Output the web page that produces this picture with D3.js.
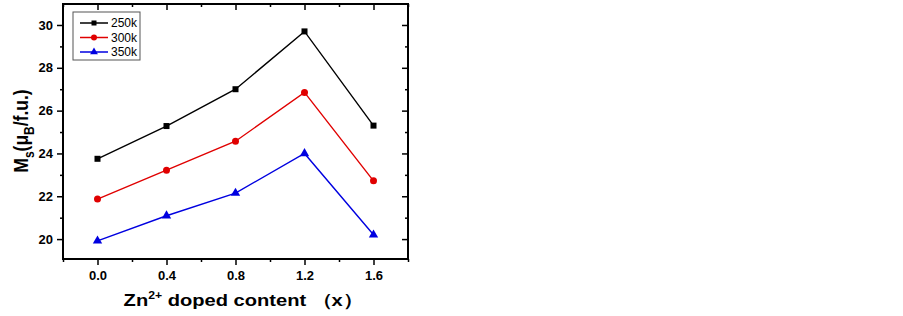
<!DOCTYPE html>
<html>
<head>
<meta charset="utf-8">
<script src="https://cdn.jsdelivr.net/npm/d3@7"></script>
<style>
  body { margin: 0; background: #fff; }
  svg { font-family: Arial, "Liberation Sans", sans-serif; }
</style>
</head>
<body>
<div id="chart"></div>
<script>
// data
var xs = [0.0, 0.4, 0.8, 1.2, 1.6];
var s250 = [23.75, 25.28, 27.0, 29.7, 25.3];
var s300 = [21.87, 23.22, 24.57, 26.85, 22.72];
var s350 = [19.92, 21.09, 22.15, 24.0, 20.2];
var names = ["250k", "300k", "350k"];
var xTicks = [0.0, 0.4, 0.8, 1.2, 1.6];
var yTicks = [20, 22, 24, 26, 28, 30];

var colors = ["#000000", "#e00000", "#0000e0"];
var series = [s250, s300, s350];

var margin = {top: 4, left: 63};
var width = 345, height = 255;

var svg = d3.select("#chart").append("svg")
    .attr("width", 903).attr("height", 316);
var g = svg.append("g").attr("transform", "translate(" + margin.left + "," + margin.top + ")");

var x = d3.scaleLinear().domain([-0.2, 1.8]).range([0, width]);
var y = d3.scaleLinear().domain([19.07, 30.98]).range([height, 0]);

// axes: major + minor ticks
var minorX = d3.range(-0.2, 1.81, 0.2).filter(v => Math.abs(Math.round(v / 0.4) * 0.4 - v) > 1e-6);
var minorY = d3.range(19, 31.01, 1).filter(v => v % 2 !== 0 && v > 19.07 && v < 30.98);

function axisStyle(sel) {
  sel.select(".domain").remove();
  sel.selectAll("line").attr("stroke", "#000").attr("stroke-width", 1.5);
}

// bottom (outward)
g.append("g").attr("transform", "translate(0," + height + ")")
  .call(d3.axisBottom(x).tickValues(xTicks).tickSize(6).tickPadding(6).tickFormat(d3.format(".1f")))
  .call(axisStyle)
  .selectAll("text").attr("font-size", 13).attr("font-weight", "bold").attr("fill", "#000")
  .attr("font-family", "Arial, 'Liberation Sans', sans-serif");
g.append("g").attr("transform", "translate(0," + height + ")")
  .call(d3.axisBottom(x).tickValues(minorX).tickSize(3).tickFormat(""))
  .call(axisStyle);
// top (inward)
g.append("g").call(d3.axisBottom(x).tickValues(xTicks).tickSize(6).tickFormat("")).call(axisStyle);
g.append("g").call(d3.axisBottom(x).tickValues(minorX).tickSize(3).tickFormat("")).call(axisStyle);

// left (outward)
g.append("g")
  .call(d3.axisLeft(y).tickValues(yTicks).tickSize(6).tickPadding(4))
  .call(axisStyle)
  .selectAll("text").attr("font-size", 13).attr("font-weight", "bold").attr("fill", "#000")
  .attr("font-family", "Arial, 'Liberation Sans', sans-serif");
g.append("g").call(d3.axisLeft(y).tickValues(minorY).tickSize(3).tickFormat("")).call(axisStyle);
// right (inward)
g.append("g").attr("transform", "translate(" + width + ",0)")
  .call(d3.axisLeft(y).tickValues(yTicks).tickSize(6).tickFormat("")).call(axisStyle);
g.append("g").attr("transform", "translate(" + width + ",0)")
  .call(d3.axisLeft(y).tickValues(minorY).tickSize(3).tickFormat("")).call(axisStyle);

// frame
g.append("rect").attr("width", width).attr("height", height)
  .attr("fill", "none").attr("stroke", "#000").attr("stroke-width", 2);

// markers
function marker(sel, i, size) {
  if (i === 0) {
    sel.append("rect").attr("x", -size).attr("y", -size)
      .attr("width", size * 2).attr("height", size * 2).attr("fill", colors[i]);
  } else if (i === 1) {
    sel.append("circle").attr("r", size + 0.5).attr("fill", colors[i]);
  } else {
    sel.append("path").attr("d", d3.symbol(d3.symbolTriangle, size * size * 4.2)()).attr("fill", colors[i]);
  }
}

var line = d3.line().x((d, i) => x(xs[i])).y(d => y(d));
series.forEach(function(s, i) {
  g.append("path").datum(s)
    .attr("fill", "none").attr("stroke", colors[i]).attr("stroke-width", 1.4)
    .attr("d", line);
  g.selectAll(".m" + i).data(s).enter().append("g")
    .attr("class", "m" + i)
    .attr("transform", (d, j) => "translate(" + x(xs[j]) + "," + y(d) + ")")
    .each(function() { marker(d3.select(this), i, 3); });
});

// legend
var legend = g.append("g").attr("transform", "translate(10,8)");
legend.append("rect").attr("width", 67).attr("height", 48)
  .attr("fill", "#fff").attr("stroke", "#555").attr("stroke-width", 1);
names.forEach(function(n, i) {
  var ly = 11 + i * 14.5;
  legend.append("line").attr("x1", 7).attr("x2", 35).attr("y1", ly).attr("y2", ly)
    .attr("stroke", colors[i]).attr("stroke-width", 1.5);
  var m = legend.append("g").attr("transform", "translate(21," + ly + ")");
  marker(m, i, 2.5);
  legend.append("text").attr("x", 38).attr("y", ly).attr("dy", "0.35em")
    .attr("font-size", 12).text(n);
});

// axis titles (the source image is stretched horizontally)
var xt = svg.append("text")
  .attr("transform", "translate(243,306) scale(1.22,1)")
  .attr("text-anchor", "middle")
  .attr("font-size", 16.5).attr("font-weight", "bold");
xt.append("tspan").text("Zn");
xt.append("tspan").attr("font-size", 10).attr("dy", -7).text("2+");
xt.append("tspan").attr("dy", 7).text(" doped content （x）");

var yt = svg.append("text")
  .attr("transform", "translate(28,131) scale(1.2,1) rotate(-90)")
  .attr("text-anchor", "middle")
  .attr("font-size", 17.5).attr("font-weight", "bold");
yt.append("tspan").text("M");
yt.append("tspan").attr("font-size", 12).attr("dy", 5).text("s");
yt.append("tspan").attr("dy", -5).text("(μ");
yt.append("tspan").attr("font-size", 12).attr("dy", 5).text("B");
yt.append("tspan").attr("dy", -5).text("/f.u.)");
</script>
</body>
</html>
